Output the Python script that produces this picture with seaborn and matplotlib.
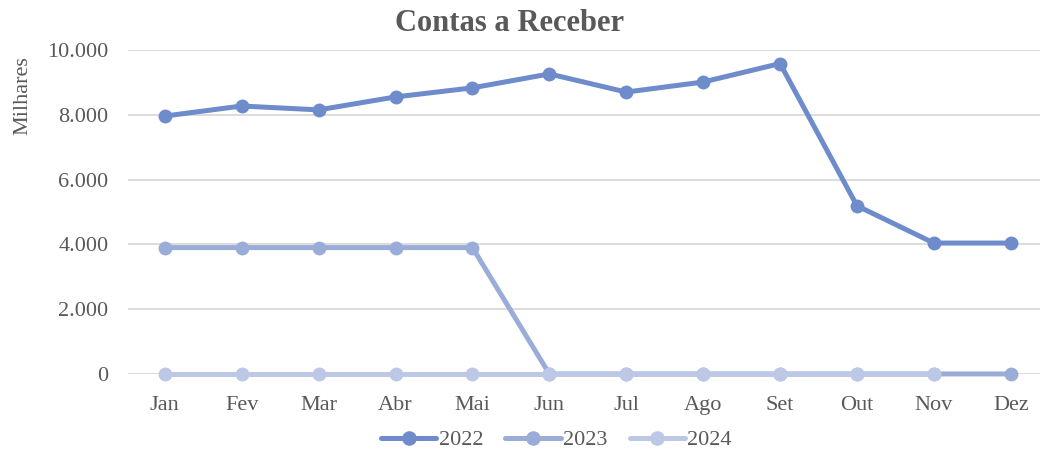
import numpy as np
import pandas as pd
import matplotlib
matplotlib.use('Agg')
import matplotlib.pyplot as plt
import seaborn as sns
from matplotlib.ticker import FuncFormatter

months = ['Jan', 'Fev', 'Mar', 'Abr', 'Mai', 'Jun', 'Jul', 'Ago', 'Set', 'Out', 'Nov', 'Dez']
v2022 = [7960, 8270, 8150, 8550, 8830, 9260, 8700, 9010, 9580, 5190, 4040, 4040]
v2023 = [3900, 3900, 3900, 3900, 3900, 0, 0, 0, 0, 0, 0, 0]
v2024 = [0, 0, 0, 0, 0, 0, 0, 0, 0, 0, 0, np.nan]
years = ['2022', '2023', '2024']
colors = ['#6E8BCB', '#9AADD9', '#BCC8E6']

rows = []
for year, vals in zip(years, [v2022, v2023, v2024]):
    for i, v in enumerate(vals):
        rows.append({'pos': i, 'valor': v, 'ano': year})
df = pd.DataFrame(rows).dropna()

sns.set_style('white')
plt.rcParams['font.family'] = ['Liberation Serif', 'DejaVu Serif']
gray = '#595959'

fig = plt.figure(figsize=(10.4, 4.5), dpi=100)
ax = fig.add_axes([0.123, 0.169, 0.877, 0.72])

sns.lineplot(data=df, x='pos', y='valor', hue='ano', palette=dict(zip(years, colors)),
             marker='o', markersize=10, markeredgewidth=0, linewidth=3.6,
             clip_on=False, ax=ax, legend=False)

ax.set_xlim(-0.48, 11.38)
ax.set_ylim(0, 10000)
ax.set_xticks(range(len(months)))
ax.set_xticklabels(months)
ax.set_yticks(range(0, 10001, 2000))
ax.yaxis.set_major_formatter(FuncFormatter(lambda v, p: f'{int(v):,}'.replace(',', '.')))
ax.tick_params(axis='both', colors=gray, labelsize=16, length=0)
ax.tick_params(axis='x', pad=16)
ax.tick_params(axis='y', pad=14)
ax.grid(axis='y', color='#D9D9D9', linewidth=1.3)
ax.set_axisbelow(True)
for s in ax.spines.values():
    s.set_visible(False)

ax.set_xlabel('')
ax.set_ylabel('Milhares', color=gray, fontsize=16)
ax.yaxis.set_label_coords(-0.105, 0.86)
fig.text(0.49, 0.948, 'Contas a Receber', color=gray, fontsize=22, fontweight='bold',
         ha='center', va='center')

handles = [plt.Line2D([], [], color=c, marker='o', markersize=10.5, markeredgewidth=0, linewidth=3.6)
           for c in colors]
fig.legend(handles, years, loc='center', ncol=3, frameon=False, fontsize=16,
           bbox_to_anchor=(0.535, 0.022), handlelength=2.5, handletextpad=0.1, columnspacing=1.0,
           labelcolor=gray)

fig.savefig('out.png', dpi=100)
